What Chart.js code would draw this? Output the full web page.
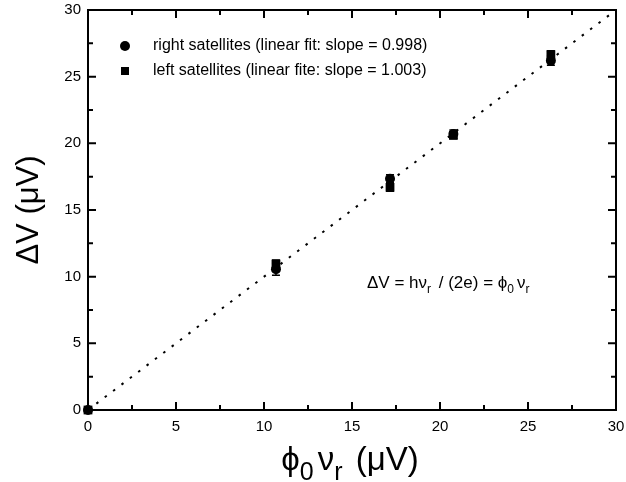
<!DOCTYPE html>
<html>
<head>
<meta charset="utf-8">
<script src="https://cdn.jsdelivr.net/npm/chart.js@4/dist/chart.umd.min.js"></script>
<style>
  html, body { margin: 0; padding: 0; background: #fff; }
  #wrap { width: 626px; height: 482px; }
</style>
</head>
<body>
<div id="wrap"><canvas id="grafico" width="626" height="482"></canvas></div>
<script>
// valores
const phiNu = [0, 10.68, 17.16, 20.76, 26.3];
const rightSat = [0, 10.55, 17.35, 20.7, 26.2];
const rightErr = [0, 0.45, 0.3, 0.3, 0.35];
const leftSat = [0, 10.95, 16.7, 20.6, 26.65];
const leftErr = [0, 0.3, 0.3, 0.25, 0.3];
const fitLine = [0, 30];
const xTicks = [0, 5, 10, 15, 20, 25, 30];
const yTicks = [0, 5, 10, 15, 20, 25, 30];
const legendLabels = ['right satellites (linear fit: slope = 0.998)', 'left satellites (linear fite: slope = 1.003)'];

const FONT = '"Liberation Sans", Arial, sans-serif';

function pontos(xs, ys) {
    return xs.map((x, i) => ({ x: x, y: ys[i] }));
}

// texto com subscritos: partes [texto, sub?]; depois do subscrito um pequeno espaco
function textoSub(ctx, partes, x, y, size, esc, gap) {
    let cx = x;
    partes.forEach(p => {
        if (p[1]) {
            ctx.font = Math.round(size * esc) + 'px ' + FONT;
            ctx.fillText(p[0], cx, y + size * 0.3);
            cx += ctx.measureText(p[0]).width + gap;
        } else {
            ctx.font = size + 'px ' + FONT;
            ctx.fillText(p[0], cx, y);
            cx += ctx.measureText(p[0]).width;
        }
    });
    return cx - x;
}

function larguraSub(ctx, partes, size, esc, gap) {
    let w = 0;
    partes.forEach(p => {
        ctx.font = (p[1] ? Math.round(size * esc) : size) + 'px ' + FONT;
        w += ctx.measureText(p[0]).width + (p[1] ? gap : 0);
    });
    return w;
}

const molduraPlugin = {
    id: 'moldura',
    beforeDatasetsDraw(chart) {
        const ctx = chart.ctx;
        const xs = chart.scales.x, ys = chart.scales.y;
        // barras de erro
        ctx.save();
        ctx.strokeStyle = '#000';
        ctx.lineWidth = 1.5;
        [[rightSat, rightErr], [leftSat, leftErr]].forEach(([vals, errs]) => {
            vals.forEach((v, i) => {
                if (!errs[i]) return;
                const px = xs.getPixelForValue(phiNu[i]);
                const y1 = ys.getPixelForValue(v - errs[i]);
                const y2 = ys.getPixelForValue(v + errs[i]);
                ctx.beginPath();
                ctx.moveTo(px, y1); ctx.lineTo(px, y2);
                ctx.moveTo(px - 4, y1); ctx.lineTo(px + 4, y1);
                ctx.moveTo(px - 4, y2); ctx.lineTo(px + 4, y2);
                ctx.stroke();
            });
        });
        ctx.restore();
    },
    afterDraw(chart) {
        const ctx = chart.ctx;
        const a = chart.chartArea;
        const xs = chart.scales.x, ys = chart.scales.y;
        ctx.save();
        ctx.strokeStyle = '#000';
        ctx.fillStyle = '#000';
        ctx.lineWidth = 2;
        ctx.strokeRect(a.left, a.top, a.right - a.left, a.bottom - a.top);

        // ticks para dentro (maiores e menores)
        ctx.beginPath();
        for (let v = 0; v <= 30; v += 2.5) {
            const len = (v % 5 === 0) ? 8 : 5;
            const px = xs.getPixelForValue(v);
            ctx.moveTo(px, a.bottom); ctx.lineTo(px, a.bottom - len);
            ctx.moveTo(px, a.top); ctx.lineTo(px, a.top + len);
            const py = ys.getPixelForValue(v);
            ctx.moveTo(a.left, py); ctx.lineTo(a.left + len, py);
            ctx.moveTo(a.right, py); ctx.lineTo(a.right - len, py);
        }
        ctx.stroke();

        // legenda
        const ds = chart.data.datasets;
        ctx.textBaseline = 'middle';
        ctx.textAlign = 'left';
        [0, 1].forEach(i => {
            const y = 46 + i * 25;
            const d = ds[i];
            ctx.fillStyle = '#000';
            if (d.pointStyle === 'circle') {
                ctx.beginPath(); ctx.arc(125, y, 5, 0, Math.PI * 2); ctx.fill();
            } else {
                ctx.fillRect(121, y - 4, 8, 8);
            }
            ctx.font = '16px ' + FONT;
            ctx.fillText(legendLabels[i], 153, y);
        });

        // anotacao
        ctx.textBaseline = 'alphabetic';
        textoSub(ctx, [['\u0394V = h\u03bd', 0], ['r', 1], [' / (2e) = \u03d5', 0], ['0', 1], ['\u03bd', 0], ['r', 1]], 367, 288, 17, 0.7, 3);

        // titulo eixo x
        const tx = [['\u03d5', 0], ['0', 1], ['\u03bd', 0], ['r', 1], [' (\u03bcV)', 0]];
        const wx = larguraSub(ctx, tx, 33, 0.75, 4);
        textoSub(ctx, tx, 350 - wx / 2, 470, 33, 0.75, 4);

        // titulo eixo y
        ctx.translate(38, (a.top + a.bottom) / 2);
        ctx.rotate(-Math.PI / 2);
        ctx.font = '31px ' + FONT;
        ctx.textAlign = 'center';
        ctx.fillText('\u0394V (\u03bcV)', 0, 0);
        ctx.restore();
    }
};

new Chart(document.getElementById('grafico').getContext('2d'), {
    type: 'scatter',
    data: {
        datasets: [{
            label: legendLabels[0],
            data: pontos(phiNu, rightSat),
            pointStyle: 'circle',
            pointRadius: 5,
            backgroundColor: '#000',
            borderColor: '#000',
            borderWidth: 0,
            clip: false,
            order: 1
        }, {
            label: legendLabels[1],
            data: pontos(phiNu, leftSat),
            pointStyle: 'rect',
            pointRadius: 6.2,
            backgroundColor: '#000',
            borderColor: '#000',
            borderWidth: 0,
            clip: false,
            order: 2
        }, {
            type: 'line',
            label: 'fit',
            data: pontos(fitLine, fitLine),
            borderColor: '#000',
            borderWidth: 2,
            borderDash: [2.5, 8],
            pointRadius: 0,
            fill: false,
            order: 3
        }]
    },
    options: {
        responsive: false,
        animation: false,
        layout: { padding: { top: 10, right: 10, left: 0, bottom: 0 } },
        plugins: { legend: { display: false }, tooltip: { enabled: false } },
        scales: {
            x: {
                type: 'linear', min: 0, max: 30,
                afterBuildTicks: s => { s.ticks = xTicks.map(v => ({ value: v })); },
                ticks: { color: '#000', font: { size: 15, family: FONT }, padding: 8, maxRotation: 0 },
                grid: { display: false, drawTicks: false, tickLength: 0 },
                border: { display: false },
                afterFit: s => { s.height = 72; s.paddingLeft = 0; s.paddingRight = 0; }
            },
            y: {
                type: 'linear', min: 0, max: 30,
                afterBuildTicks: s => { s.ticks = yTicks.map(v => ({ value: v })); },
                ticks: { color: '#000', font: { size: 15, family: FONT }, padding: 7 },
                grid: { display: false, drawTicks: false, tickLength: 0 },
                border: { display: false },
                afterFit: s => { s.width = 88; s.paddingTop = 0; s.paddingBottom = 0; }
            }
        }
    },
    plugins: [molduraPlugin]
});
</script>
</body>
</html>
